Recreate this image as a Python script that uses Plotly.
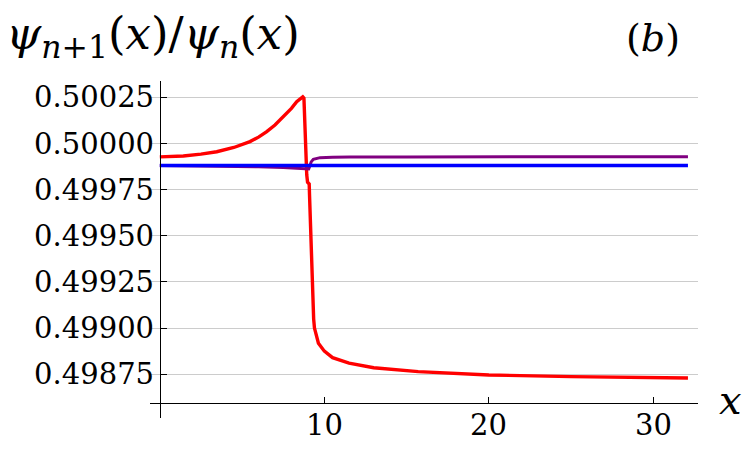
import plotly.graph_objects as go

# ---- data ----
red_x = [0, 1.43, 2.5, 3.46, 4.5, 5.48, 6.0, 6.5, 7.0, 7.51, 8.0, 8.32, 8.55, 8.69, 8.76,
         8.80, 8.86, 8.93, 8.98, 9.08, 9.10, 9.14, 9.20, 9.26, 9.31, 9.35,
         9.40, 9.5, 9.64, 10.0, 10.5, 11.5, 13.0, 15.7, 20, 25, 30, 32.1]
red_y = [0.499927, 0.499932, 0.499942, 0.499955, 0.499978, 0.500010, 0.500034, 0.500064,
         0.500100, 0.500145, 0.500190, 0.500226, 0.500240, 0.500252, 0.500245,
         0.500150, 0.499950, 0.499830, 0.499790, 0.499780, 0.499720, 0.499600, 0.499450,
         0.499250, 0.499110, 0.499050,
         0.499000, 0.498960, 0.498918, 0.498875, 0.498840, 0.498810, 0.498785, 0.498764,
         0.498746, 0.498737, 0.498733, 0.498730]

purple_x = [0, 2, 4, 6, 7.5, 8.5, 8.9, 9.05, 9.13, 9.2, 9.33, 9.5, 9.74, 10.5, 11.56,
            15, 20, 25, 32.1]
purple_y = [0.499880, 0.499879, 0.499877, 0.499873, 0.499869, 0.499863, 0.499860,
            0.499862, 0.499880, 0.499900, 0.499914, 0.499919, 0.499923, 0.499925,
            0.499927, 0.499927, 0.499928, 0.499928, 0.499928]

blue_x = [0, 8, 16, 24, 32.1]
blue_y = [0.49988, 0.49988, 0.49988, 0.49988, 0.49988]

y_ticks = [0.49875, 0.49900, 0.49925, 0.49950, 0.49975, 0.50000, 0.50025]
y_ticktext = ["0.49875", "0.49900", "0.49925", "0.49950", "0.49975", "0.50000", "0.50025"]
x_ticks = [10, 20, 30]
x_ticktext = ["10", "20", "30"]

FONT = "DejaVu Serif"
XAXIS_POS = 0.0454

fig = go.Figure()
fig.add_trace(go.Scatter(x=red_x, y=red_y, mode="lines",
                         line=dict(color="#ff0000", width=3.4), hoverinfo="skip"))
fig.add_trace(go.Scatter(x=purple_x, y=purple_y, mode="lines",
                         line=dict(color="#800080", width=3), hoverinfo="skip"))
fig.add_trace(go.Scatter(x=blue_x, y=blue_y, mode="lines",
                         line=dict(color="#0000ff", width=3.6), hoverinfo="skip"))

fig.update_layout(
    width=750, height=461,
    margin=dict(l=150, r=52, t=81, b=43, autoexpand=False),
    paper_bgcolor="white", plot_bgcolor="white",
    showlegend=False,
    font=dict(family=FONT, size=29, color="black"),
    xaxis=dict(range=[-0.596, 32.71], anchor="free", position=XAXIS_POS,
               showline=True, linecolor="black", linewidth=1.3,
               ticks="inside", ticklen=6, tickcolor="black", tickwidth=1,
               tickvals=x_ticks, showticklabels=False,
               showgrid=False, zeroline=False),
    yaxis=dict(range=[0.498513, 0.500338], anchor="free", position=0.01825,
               showline=True, linecolor="black", linewidth=1.3,
               ticks="inside", ticklen=6, tickcolor="black", tickwidth=1,
               tickvals=y_ticks, ticktext=y_ticktext,
               showgrid=True, gridcolor="#cccccc", gridwidth=1,
               zeroline=False,
               tickfont=dict(family=FONT, size=29)),
)

# x tick labels placed just under the crossing x-axis line
for tv, tt in zip(x_ticks, x_ticktext):
    fig.add_annotation(xref="x", yref="paper", x=tv, y=XAXIS_POS,
                       xanchor="center", yanchor="top", yshift=-3,
                       showarrow=False, text=tt, font=dict(family=FONT, size=29))

fig.add_annotation(xref="paper", yref="paper", x=-146/548, y=1 + (81 - 36) / 337,
                   xanchor="left", yanchor="middle", showarrow=False,
                   text="<i>ψ</i><sub><i>n</i>+1</sub>(<i>x</i>)/<i>ψ</i><sub><i>n</i></sub>(<i>x</i>)",
                   font=dict(family=FONT, size=45))
fig.add_annotation(xref="paper", yref="paper", x=(653 - 150) / 548, y=1 + (81 - 38) / 337,
                   xanchor="center", yanchor="middle", showarrow=False,
                   text="(<i>b</i>)", font=dict(family=FONT, size=38))
fig.add_annotation(xref="paper", yref="paper", x=(730 - 150) / 548, y=(418 - 400) / 337,
                   xanchor="center", yanchor="middle", showarrow=False,
                   text="<i>x</i>", font=dict(family=FONT, size=40))

fig.write_html("out.html")
